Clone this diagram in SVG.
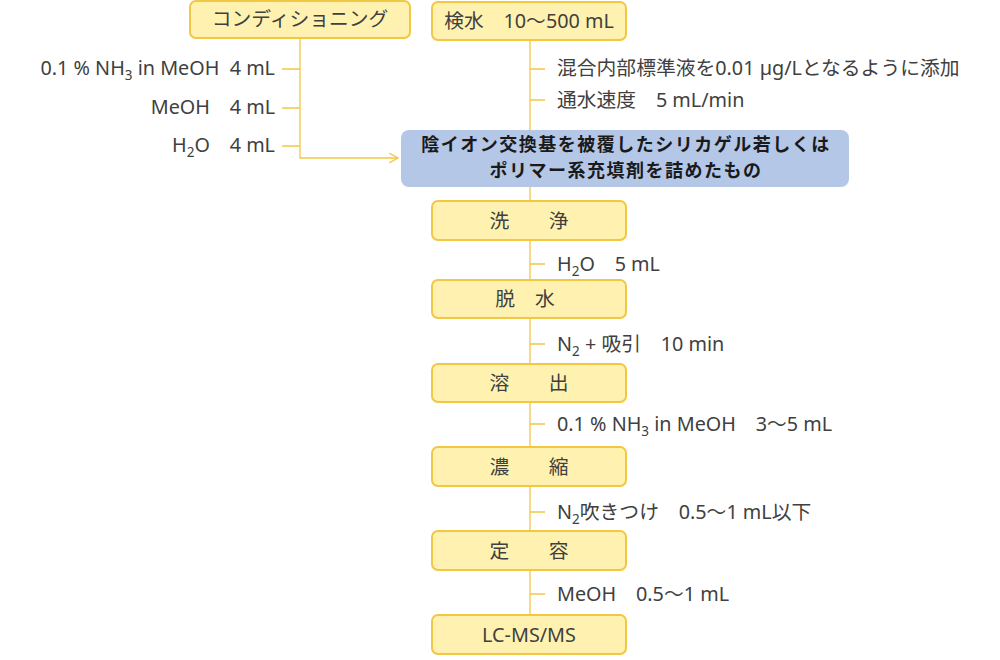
<svg xmlns="http://www.w3.org/2000/svg" width="1000" height="660" viewBox="0 0 1000 660">
<defs>
<style>
.box{fill:#fff2b0;stroke:#f2c744;stroke-width:2}
.blue{fill:#b4c7e7;stroke:none}
.ln{stroke:#f2c744;stroke-width:1.3;fill:none}
.t{font-family:"Noto Sans","Noto Sans CJK JP",sans-serif;font-size:19.8px;fill:#404040;white-space:pre}
.c{text-anchor:middle}
.r{text-anchor:end}
.b{font-family:"Noto Sans CJK JP","Noto Sans",sans-serif;font-size:18px;letter-spacing:1.5px;font-weight:bold;fill:#1a1a1a;text-anchor:middle}
.sub{font-size:13.5px}
</style>
<marker id="arr" viewBox="0 0 10 10" refX="9" refY="5" markerWidth="10" markerHeight="10" markerUnits="userSpaceOnUse" orient="auto">
<path d="M0,0 L9,5 L0,10" fill="none" stroke="#f2c744" stroke-width="1.3"/>
</marker>
</defs>
<rect width="1000" height="660" fill="#ffffff"/>
<g id="connectors">
<path class="ln" d="M300,38 V158 H398" marker-end="url(#arr)"/>
<path class="ln" d="M282,69 H300 M282,108 H300 M282,146 H300"/>
<path class="ln" d="M530,40 V131"/>
<path class="ln" d="M530,69 H545 M530,100 H545"/>
<path class="ln" d="M530,187 V201 M530,240 V280 M530,318 V364 M530,402 V447 M530,486 V531 M530,570 V615"/>
<path class="ln" d="M530,264 H545 M530,344 H545 M530,424 H545 M530,512 H545 M530,594 H545"/>
</g>
<g id="n-cond">
<rect class="box" x="190" y="1" width="220" height="37" rx="6"/>
<text class="t c" x="300" y="26">コンディショニング</text>
</g>
<g id="cond-labels">
<text class="t r" x="275" y="75">0.1 % NH<tspan class="sub" dy="5">3</tspan><tspan dy="-5"> in MeOH  4 mL</tspan></text>
<text class="t r" x="275" y="114">MeOH　4 mL</text>
<text class="t r" x="275" y="152">H<tspan class="sub" dy="5">2</tspan><tspan dy="-5">O　4 mL</tspan></text>
</g>
<g id="n-sample">
<rect class="box" x="432" y="2" width="194" height="38" rx="6"/>
<text class="t c" x="529" y="28">検水　10〜500 mL</text>
</g>
<g id="sample-labels">
<text class="t" x="557" y="75">混合内部標準液を0.01 µg/Lとなるように添加</text>
<text class="t" x="557" y="107">通水速度　5 mL/min</text>
</g>
<g id="n-cartridge">
<rect class="blue" x="401" y="130" width="448" height="57" rx="8"/>
<text class="b" x="626" y="150.5">陰イオン交換基を被覆したシリカゲル若しくは</text>
<text class="b" x="626" y="177">ポリマー系充填剤を詰めたもの</text>
</g>
<g id="n-wash">
<rect class="box" x="432" y="201" width="194" height="39" rx="6"/>
<text class="t c" x="529" y="228">洗　　浄</text>
</g>
<text class="t" x="557" y="271">H<tspan class="sub" dy="5">2</tspan><tspan dy="-5">O　5 mL</tspan></text>
<g id="n-dry">
<rect class="box" x="432" y="280" width="194" height="38" rx="6"/>
<text class="t c" x="525" y="306">脱　水</text>
</g>
<text class="t" x="557" y="351">N<tspan class="sub" dy="5">2</tspan><tspan dy="-5"> + 吸引　10 min</tspan></text>
<g id="n-elute">
<rect class="box" x="432" y="364" width="194" height="38" rx="6"/>
<text class="t c" x="529" y="390">溶　　出</text>
</g>
<text class="t" x="557" y="431">0.1 % NH<tspan class="sub" dy="5">3</tspan><tspan dy="-5"> in MeOH　3〜5 mL</tspan></text>
<g id="n-conc">
<rect class="box" x="432" y="447" width="194" height="39" rx="6"/>
<text class="t c" x="529" y="474">濃　　縮</text>
</g>
<text class="t" x="557" y="519">N<tspan class="sub" dy="5">2</tspan><tspan dy="-5">吹きつけ　0.5〜1 mL以下</tspan></text>
<g id="n-vol">
<rect class="box" x="432" y="531" width="194" height="39" rx="6"/>
<text class="t c" x="529" y="558">定　　容</text>
</g>
<text class="t" x="557" y="601">MeOH　0.5〜1 mL</text>
<g id="n-lcms">
<rect class="box" x="432" y="615" width="194" height="39" rx="6"/>
<text class="t c" x="529" y="642">LC-MS/MS</text>
</g>
</svg>
